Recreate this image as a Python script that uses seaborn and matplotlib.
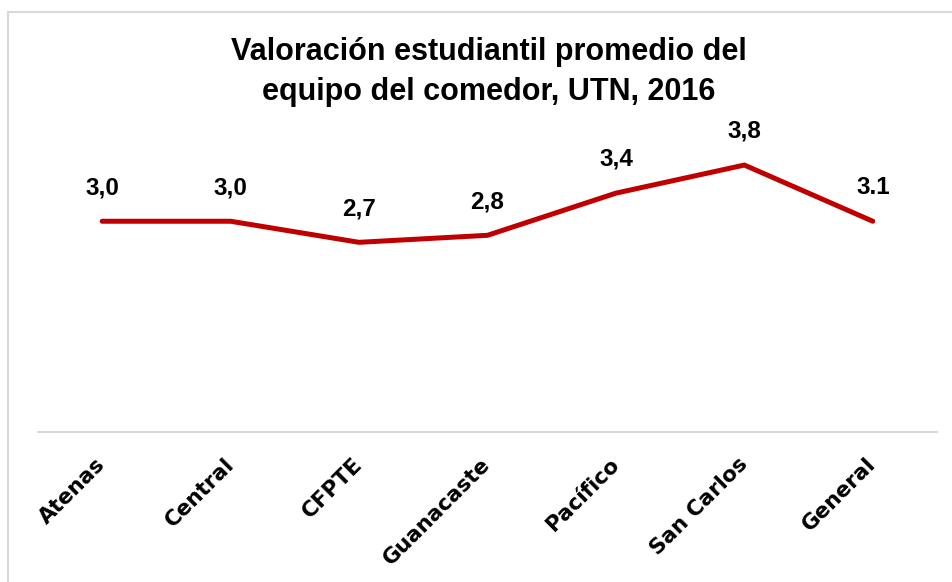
import matplotlib
matplotlib.use("Agg")
import matplotlib.pyplot as plt
import seaborn as sns
import pandas as pd
from matplotlib.patches import Rectangle

categories = ["Atenas", "Central", "CFPTE", "Guanacaste", "Pacífico", "San Carlos", "General"]
values = [3.0, 3.0, 2.7, 2.8, 3.4, 3.8, 3.0]
value_labels = ["3,0", "3,0", "2,7", "2,8", "3,4", "3,8", "3.1"]
title = "Valoración estudiantil promedio del\nequipo del comedor, UTN, 2016"

sns.set_theme(style="white")
plt.rcParams['font.family'] = ['Liberation Sans', 'DejaVu Sans']
plt.rcParams['text.color'] = 'black'
plt.rcParams['xtick.color'] = 'black'

df = pd.DataFrame({"Sede": categories, "Valor": values})

fig = plt.figure(figsize=(9.52, 5.82), dpi=100)
ax = fig.add_axes([38/952, 1-432/582, (937-38)/952, (432-151)/582])

sns.lineplot(data=df, x="Sede", y="Valor", ax=ax, color="#C00000", linewidth=3.6,
             sort=False, solid_capstyle="round", solid_joinstyle="round")

ax.set_ylim(0, 4.0)
ax.set_xlim(-0.5, len(categories) - 0.5)
ax.set_xlabel("")
ax.set_ylabel("")
ax.set_yticks([])

for i, (v, lab) in enumerate(zip(values, value_labels)):
    ax.annotate(lab, (i, v), xytext=(0, 16), textcoords="offset points",
                ha="center", va="bottom", fontsize=17.5, fontweight="bold", color="black")

for s in ["top", "left", "right"]:
    ax.spines[s].set_visible(False)
ax.spines["bottom"].set_color("#D9D9D9")
ax.spines["bottom"].set_linewidth(1.5)

ax.set_xticks(range(len(categories)))
ax.set_xticklabels(categories, rotation=45, ha="right", va="center", rotation_mode="anchor",
                   fontsize=15.5, fontweight="bold", family=["DejaVu Sans"], color="black")
ax.tick_params(axis="x", length=0, pad=21)

fig.text(489/952, 1-72/582, title, ha="center", va="center", fontsize=22,
         fontweight="bold", color="black",
         family=["Liberation Sans Narrow", "Liberation Sans", "DejaVu Sans"],
         linespacing=1.45)

fig.patches.append(Rectangle((8/952, -0.1), 1.2, 1-12/582+0.1, transform=fig.transFigure,
                             fill=False, edgecolor="#D9D9D9", linewidth=1.5, zorder=0))

fig.savefig("out.png", dpi=100, facecolor="white")
